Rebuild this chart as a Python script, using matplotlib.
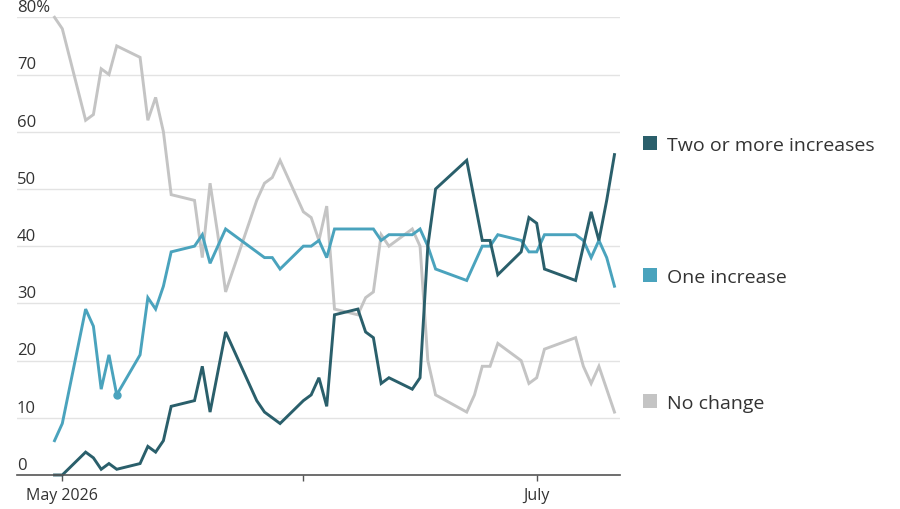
import matplotlib
matplotlib.use("Agg")
import matplotlib.pyplot as plt
import matplotlib.dates as mdates
import matplotlib.transforms as mtransforms
from matplotlib.patches import Rectangle
import pandas as pd

plt.rcParams['font.family'] = ['Open Sans', 'DejaVu Sans']

dates = ["2026-04-30", "2026-05-01",
         "2026-05-04", "2026-05-05", "2026-05-06", "2026-05-07", "2026-05-08",
         "2026-05-11", "2026-05-12", "2026-05-13", "2026-05-14", "2026-05-15",
         "2026-05-18", "2026-05-19", "2026-05-20", "2026-05-21", "2026-05-22",
         "2026-05-26", "2026-05-27", "2026-05-28", "2026-05-29",
         "2026-06-01", "2026-06-02", "2026-06-03", "2026-06-04", "2026-06-05",
         "2026-06-08", "2026-06-09", "2026-06-10", "2026-06-11", "2026-06-12",
         "2026-06-15", "2026-06-16", "2026-06-17", "2026-06-18",
         "2026-06-22", "2026-06-23", "2026-06-24", "2026-06-25", "2026-06-26",
         "2026-06-29", "2026-06-30", "2026-07-01", "2026-07-02",
         "2026-07-06", "2026-07-07", "2026-07-08", "2026-07-09", "2026-07-10", "2026-07-11"]

two_or_more = [0, 0,
               4, 3, 1, 2, 1,
               2, 5, 4, 6, 12,
               13, 19, 11, 18, 25,
               13, 11, 10, 9,
               13, 14, 17, 12, 28,
               29, 25, 24, 16, 17,
               15, 17, 40, 50,
               55, 48, 41, 41, 35,
               39, 45, 44, 36,
               34, 40, 46, 41, 48, 56]

one_increase = [6, 9,
                29, 26, 15, 21, 14,
                21, 31, 29, 33, 39,
                40, 42, 37, 40, 43,
                39, 38, 38, 36,
                40, 40, 41, 38, 43,
                43, 43, 43, 41, 42,
                42, 43, 40, 36,
                34, 37, 40, 40, 42,
                41, 39, 39, 42,
                42, 41, 38, 41, 38, 33]

no_change = [80, 78,
             62, 63, 71, 70, 75,
             73, 62, 66, 60, 49,
             48, 38, 51, 42, 32,
             48, 51, 52, 55,
             46, 45, 41, 47, 29,
             28, 31, 32, 42, 40,
             43, 40, 20, 14,
             11, 14, 19, 19, 23,
             20, 16, 17, 22,
             24, 19, 16, 19, 15, 11]

series_names = ["Two or more increases", "One increase", "No change"]
colors = ["#2a5f6b", "#4aa3bd", "#c4c4c4"]

y_ticks = [0, 10, 20, 30, 40, 50, 60, 70, 80]
y_tick_labels = ["0", "10", "20", "30", "40", "50", "60", "70", "80%"]
x_tick_dates = ["2026-05-01", "2026-06-01", "2026-07-01"]
x_tick_labels = ["May 2026", "", "July"]

x = pd.to_datetime(dates)

W, H = 900, 510
fig = plt.figure(figsize=(W / 100, H / 100), dpi=100)
ax_left, ax_right, ax_top, ax_bottom = 17, 620, 18.3, 476
ax = fig.add_axes([ax_left / W, (H - ax_bottom) / H,
                   (ax_right - ax_left) / W, (ax_bottom - ax_top) / H])

# draw order: gray, teal, dark
ax.plot(x, no_change, color=colors[2], lw=2.1, solid_joinstyle='miter', clip_on=False, zorder=3)
ax.plot(x, one_increase, color=colors[1], lw=2.1, solid_joinstyle='miter', clip_on=False, zorder=4)
ax.plot(x, two_or_more, color=colors[0], lw=2.1, solid_joinstyle='miter', clip_on=False, zorder=5)
ax.plot(x[6], one_increase[6], 'o', color=colors[1], ms=5, zorder=6)

may1 = mdates.date2num(pd.Timestamp("2026-05-01"))
jul1 = mdates.date2num(pd.Timestamp("2026-07-01"))
px_per_day = (536.7 - 62.3) / 61.0
ax.set_xlim(may1 - (62.3 - ax_left) / px_per_day, jul1 + (ax_right - 536.7) / px_per_day)
ax.set_ylim(0, 80)

for s in ["top", "right", "left"]:
    ax.spines[s].set_visible(False)
ax.spines["bottom"].set_color("#555555")
ax.spines["bottom"].set_linewidth(1.2)
ax.spines["bottom"].set_zorder(7)

for yv in y_ticks[1:]:
    ax.axhline(yv, color="#e3e3e3", lw=1.0, zorder=1)

ax.set_yticks([])
trans = mtransforms.blended_transform_factory(ax.transAxes, ax.transData)
offset = mtransforms.offset_copy(trans, fig=fig, x=0, y=1.5, units='points')
for yv, lab in zip(y_ticks, y_tick_labels):
    ax.text(0, yv, lab, transform=offset, ha='left', va='bottom',
            fontsize=12, color="#333333")

ax.set_xticks(pd.to_datetime(x_tick_dates))
ax.set_xticklabels(x_tick_labels, fontsize=11.5, color="#333333")
ax.tick_params(axis='x', length=4, width=1, color="#555555", pad=5)

# legend labels
legend_y = [144, 276, 402]
for name, col, yc in zip(series_names, colors, legend_y):
    sq = 14
    fig.patches.append(Rectangle((643 / W, (H - yc - sq / 2) / H), sq / W, sq / H,
                                 transform=fig.transFigure, facecolor=col,
                                 edgecolor='none'))
    fig.text(667 / W, (H - yc) / H, name, ha='left', va='center_baseline',
             fontsize=14, color="#333333")

fig.savefig("out.png", dpi=100, facecolor="white")
